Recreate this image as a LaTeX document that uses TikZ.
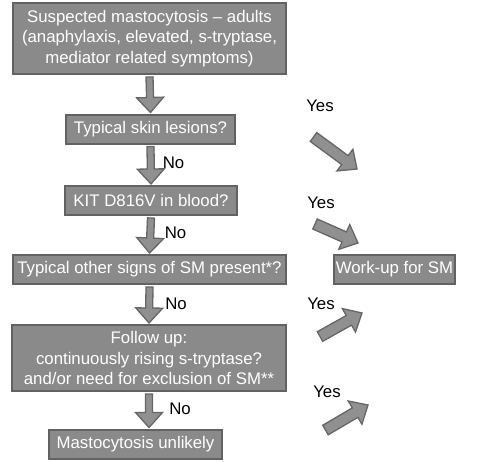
\documentclass[tikz,border=0pt]{standalone}
\usepackage{fontspec}
\setmainfont{Liberation Sans}
\usetikzlibrary{calc}

\definecolor{boxfill}{HTML}{8A8A8A}
\definecolor{boxline}{HTML}{626262}
\definecolor{arrowfill}{HTML}{909090}
\definecolor{arrowline}{HTML}{666666}

\tikzset{
  box/.style={fill=boxfill, draw=boxline, line width=2pt, text=white, align=center,
    inner xsep=2pt, inner ysep=3pt, minimum height=29pt,
    font=\fontsize{16.8}{20.3}\selectfont},
  answer/.style={font=\fontsize{16.8}{20}\selectfont, inner sep=0pt},
  arrowbody/.style={fill=arrowfill, draw=arrowline, line width=1.3pt, line join=miter,
    to path={($(\tikztotarget)!15pt!(\tikztostart)$) coordinate (neck)
      ($(\tikztostart)!\halfshaft!90:(\tikztotarget)$)
      -- ($(neck)!\halfshaft!90:(\tikztotarget)$)
      -- ($(neck)!13.5pt!90:(\tikztotarget)$)
      -- (\tikztotarget)
      -- ($(neck)!13.5pt!-90:(\tikztotarget)$)
      -- ($(neck)!\halfshaft!-90:(\tikztotarget)$)
      -- ($(\tikztostart)!\halfshaft!-90:(\tikztotarget)$) -- cycle}},
  downarrow/.style={arrowbody, /utils/exec={\def\halfshaft{3.5pt}}},
  yesarrow/.style={arrowbody, /utils/exec={\def\halfshaft{5.5pt}}},
}

\begin{document}
\begin{tikzpicture}[x=1pt,y=1pt]
\useasboundingbox (0,0) rectangle (482,-461);
% question boxes
\node[box, minimum width=273pt, minimum height=71pt] (suspect) at (149.5,-38.5)
  {Suspected mastocytosis -- adults\\(anaphylaxis, elevated, s-tryptase,\\mediator related symptoms)};
\node[box, minimum width=169pt] (skin) at (150.5,-129) {Typical skin lesions?};
\node[box, minimum width=172pt] (kit) at (151,-200.5) {KIT D816V in blood?};
\node[box, minimum width=273pt] (signs) at (149.5,-269.5) {Typical other signs of SM present*?};
\node[box, minimum width=274pt, minimum height=66pt] (followup) at (149,-358)
  {Follow up:\\continuously rising s-tryptase?\\and/or need for exclusion of SM**};
\node[box, minimum width=173pt] (unlikely) at (135.5,-444) {Mastocytosis unlikely};
\node[box, minimum width=121pt] (workup) at (394.5,-269.5) {Work-up for SM};

% no branch
\draw[downarrow] ([yshift=-2pt]suspect.south) to ([yshift=1pt]skin.north);
\draw[downarrow] ([yshift=-2pt]skin.south) to ([yshift=1pt]kit.north);
\draw[downarrow] ([yshift=-2pt]kit.south) to ([yshift=1pt]signs.north);
\draw[downarrow] ([yshift=-2pt]signs.south) to ([yshift=1pt]followup.north);
\draw[downarrow] ([yshift=-2pt]followup.south) to ([yshift=1pt]unlikely.north -| followup.south);
\node[answer] (no1) at (173.5,-163) {No};
\node[answer] (no2) at (175.5,-233) {No};
\node[answer] (no3) at (176,-304) {No};
\node[answer] (no4) at (180,-409) {No};

% yes branch
\coordinate (y1s) at (313.5,-137); \coordinate (y1e) at (357,-169);
\coordinate (y2s) at (315,-224);   \coordinate (y2e) at (358,-243);
\coordinate (y3s) at (320,-336.5); \coordinate (y3e) at (362,-313);
\coordinate (y4s) at (325.5,-430); \coordinate (y4e) at (368,-405);
\draw[yesarrow] (y1s) to (y1e);
\draw[yesarrow] (y2s) to (y2e);
\draw[yesarrow] (y3s) to (y3e);
\draw[yesarrow] (y4s) to (y4e);
\node[answer] (yes1) at (320,-106) {Yes};
\node[answer] (yes2) at (321,-203) {Yes};
\node[answer] (yes3) at (321,-304) {Yes};
\node[answer] (yes4) at (327,-392) {Yes};
\end{tikzpicture}
\end{document}
